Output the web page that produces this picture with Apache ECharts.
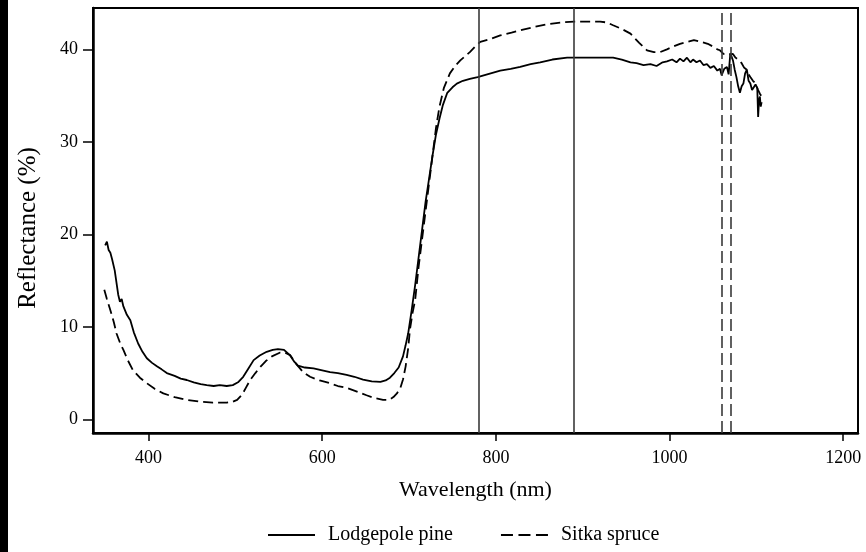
<!DOCTYPE html>
<html>
<head>
<meta charset="utf-8">
<script src="https://cdn.jsdelivr.net/npm/echarts@6/dist/echarts.min.js"></script>
<style>
  html, body { margin: 0; padding: 0; background: #fff; }
  #chart { width: 866px; height: 552px; }
</style>
</head>
<body>
<div id="chart"></div>
<script>
// Reflectance spectra of two conifer species (wavelength in nm, reflectance in %)
const pineWavelength = [
  350, 352, 354, 356, 358, 361, 363, 365, 367, 369, 371, 375, 379, 383, 388, 393, 398, 404, 410, 415,
  421, 430, 437, 444, 452, 460, 467, 475, 482, 490, 497, 503, 509, 515, 521, 528, 536, 543, 549, 556,
  563, 568, 572, 580, 590, 600, 609, 618, 628, 637, 647, 657, 667, 673, 678, 683, 688, 693, 696, 699,
  703, 707, 711, 715, 719, 723, 727, 731, 735, 739, 744, 750, 755, 762, 770, 779, 790, 805, 817, 828,
  840, 851, 865, 882, 900, 920, 935, 945, 955, 962, 970, 978, 985, 992, 997, 1003, 1008, 1012, 1016, 1020,
  1024, 1027, 1031, 1035, 1039, 1043, 1047, 1051, 1055, 1058, 1060, 1063, 1066, 1068, 1070, 1073, 1075, 1077, 1079, 1081,
  1083, 1085, 1087, 1089, 1091, 1093, 1095, 1097, 1099, 1101, 1102, 1103, 1104, 1105, 1106
];
const pineReflectance = [
  18.8, 19.2, 18.3, 18.0, 17.3, 16.1, 14.8, 13.5, 12.7, 13.0, 12.2, 11.3, 10.7, 9.4, 8.2, 7.3, 6.6, 6.1, 5.7, 5.4,
  5.0, 4.7, 4.4, 4.25, 4.0, 3.8, 3.7, 3.6, 3.7, 3.6, 3.7, 4.0, 4.6, 5.5, 6.4, 6.9, 7.3, 7.5, 7.6, 7.5,
  6.9, 6.2, 5.8, 5.6, 5.5, 5.3, 5.1, 5.0, 4.8, 4.6, 4.3, 4.1, 4.05, 4.2, 4.5, 5.0, 5.6, 6.8, 8.0, 9.3,
  11.8, 14.5, 17.5, 20.5, 23.5, 26.0, 28.5, 30.8, 32.5, 34.0, 35.3, 35.9, 36.3, 36.6, 36.8, 37.0, 37.3, 37.7, 37.9, 38.1,
  38.4, 38.6, 38.9, 39.1, 39.1, 39.1, 39.1, 38.9, 38.6, 38.5, 38.3, 38.4, 38.2, 38.6, 38.7, 38.9, 38.6, 39.0, 38.7, 39.1,
  38.6, 38.9, 38.6, 38.8, 38.3, 38.4, 38.0, 38.2, 37.7, 37.9, 37.2, 37.9, 38.1, 37.3, 39.6, 38.8, 37.8, 37.0, 36.0, 35.3,
  36.0, 36.3, 37.4, 37.8, 36.6, 36.3, 35.6, 35.9, 36.2, 35.8, 32.7, 34.5, 34.9, 33.8, 34.3
];

const spruceWavelength = [
  349, 352, 356, 360, 363, 367, 371, 376, 382, 390, 398, 407, 417, 430, 444, 460, 474, 490, 497, 502,
  508, 512, 517, 523, 529, 535, 542, 551, 557, 563, 570, 578, 586, 597, 609, 618, 628, 640, 651, 660,
  670, 677, 682, 686, 690, 693, 696, 699, 701, 704, 707, 711, 715, 719, 723, 727, 731, 735, 740, 747,
  753, 759, 765, 770, 776, 782, 793, 805, 818, 830, 843, 858, 874, 890, 905, 920, 928, 935, 945, 955,
  965, 974, 982, 989, 997, 1004, 1012, 1020, 1028, 1037, 1044, 1050, 1055, 1058, 1062, 1064, 1068, 1070, 1073, 1076,
  1080, 1083, 1086, 1089, 1091, 1093, 1096, 1099, 1102, 1104, 1106
];
const spruceReflectance = [
  14.0, 13.0, 11.8, 10.5, 9.3, 8.3, 7.5, 6.4, 5.3, 4.5, 3.9, 3.3, 2.8, 2.4, 2.1, 1.9, 1.8, 1.8, 1.9, 2.1,
  2.7, 3.4, 4.25, 5.0, 5.7, 6.3, 6.8, 7.2, 7.2, 6.95, 6.0, 5.1, 4.6, 4.2, 3.9, 3.6, 3.4, 3.0, 2.6, 2.3,
  2.1, 2.1, 2.4, 2.8, 3.4, 4.3, 5.7, 7.7, 9.7, 11.5, 12.9, 16.5, 19.5, 22.5, 25.5, 28.5, 31.5, 33.8, 35.8, 37.4,
  38.2, 38.8, 39.3, 39.7, 40.3, 40.8, 41.1, 41.5, 41.8, 42.1, 42.4, 42.7, 42.9, 43.0, 43.0, 43.0, 42.9, 42.6, 42.2, 41.7,
  40.7, 39.9, 39.7, 39.7, 40.0, 40.3, 40.6, 40.8, 41.0, 40.8, 40.6, 40.3, 40.0, 39.9, 39.5, 39.6, 39.4, 39.4, 39.5, 39.1,
  38.8, 38.5, 38.0, 37.8, 37.3, 37.0, 36.6, 36.3, 35.6, 35.2, 34.9
];

// Reference wavelengths drawn as vertical guide lines
const solidGuides = [780, 890];
const dashedGuides = [1060, 1070];

const xTicks = [400, 600, 800, 1000, 1200];
const yTicks = [0, 10, 20, 30, 40];

const seriesNames = ['Lodgepole pine', 'Sitka spruce'];

const pair = (xs, ys) => xs.map((x, i) => [x, ys[i]]);

const FONT = 'Liberation Serif';
const chart = echarts.init(document.getElementById('chart'), null, { renderer: 'canvas' });

// Legend glyphs: a plain stroke and a three-dash stroke
const solidIcon = 'path://M0,0h47v2h-47z';
const dashedIcon = 'path://M0,0h12v2h-12z M17.5,0h12v2h-12z M35,0h12v2h-12z';

chart.setOption({
  animation: false,
  backgroundColor: '#ffffff',
  textStyle: { fontFamily: FONT, color: '#000' },
  grid: {
    left: 93, right: 8, top: 8, bottom: 119,
    show: true, borderColor: '#000', borderWidth: 2, backgroundColor: 'transparent'
  },
  graphic: [
    { type: 'rect', left: 0, top: 0, shape: { width: 8, height: 552 }, style: { fill: '#000' }, silent: true },
    {
      type: 'text', x: 28, y: 228, rotation: Math.PI / 2,
      style: { text: 'Reflectance (%)', font: '25px "Liberation Serif"', fill: '#000', align: 'center', verticalAlign: 'middle' }
    }
  ],
  legend: {
    top: 525, left: 268, padding: 0,
    itemWidth: 47, itemHeight: 2, itemGap: 48,
    itemStyle: { borderWidth: 0 },
    textStyle: { fontFamily: FONT, fontSize: 20, color: '#000', padding: [0, 0, 0, 8] },
    data: [
      { name: seriesNames[0], icon: solidIcon },
      { name: seriesNames[1], icon: dashedIcon }
    ]
  },
  xAxis: {
    type: 'value', min: 336, max: 1217,
    name: 'Wavelength (nm)', nameLocation: 'middle', nameGap: 46,
    nameTextStyle: { fontFamily: FONT, fontSize: 22, color: '#000' },
    splitLine: { show: false },
    axisLine: { show: true, onZero: false, lineStyle: { color: '#000', width: 2.5 } },
    axisTick: { show: true, length: 8, customValues: xTicks, lineStyle: { color: '#000', width: 1.5 } },
    axisLabel: { customValues: xTicks, formatter: v => String(v), fontFamily: FONT, fontSize: 18, color: '#000', margin: 16 }
  },
  yAxis: {
    type: 'value', min: -1.48, max: 44.47,
    splitLine: { show: false },
    axisLine: { show: true, onZero: false, lineStyle: { color: '#000', width: 2.5 } },
    axisTick: { show: true, length: 10, customValues: yTicks, lineStyle: { color: '#000', width: 1.5 } },
    axisLabel: { customValues: yTicks, formatter: v => String(v), fontFamily: FONT, fontSize: 18, color: '#000', margin: 15 }
  },
  series: [
    {
      name: seriesNames[0], type: 'line', showSymbol: false, symbol: 'none',
      data: pair(pineWavelength, pineReflectance),
      lineStyle: { color: '#000', width: 1.8, type: 'solid' },
      itemStyle: { color: '#000' },
      markLine: {
        silent: true, symbol: 'none', label: { show: false },
        lineStyle: { color: '#3a3a3a', width: 1.6, type: 'solid' },
        data: solidGuides.map(v => ({ xAxis: v }))
      }
    },
    {
      name: seriesNames[1], type: 'line', showSymbol: false, symbol: 'none',
      data: pair(spruceWavelength, spruceReflectance),
      lineStyle: { color: '#000', width: 1.8, type: [10, 5] },
      itemStyle: { color: '#000' },
      markLine: {
        silent: true, symbol: 'none', label: { show: false },
        lineStyle: { color: '#3a3a3a', width: 1.6, type: [12, 5] },
        data: dashedGuides.map(v => ({ xAxis: v }))
      }
    }
  ]
});
</script>
</body>
</html>
